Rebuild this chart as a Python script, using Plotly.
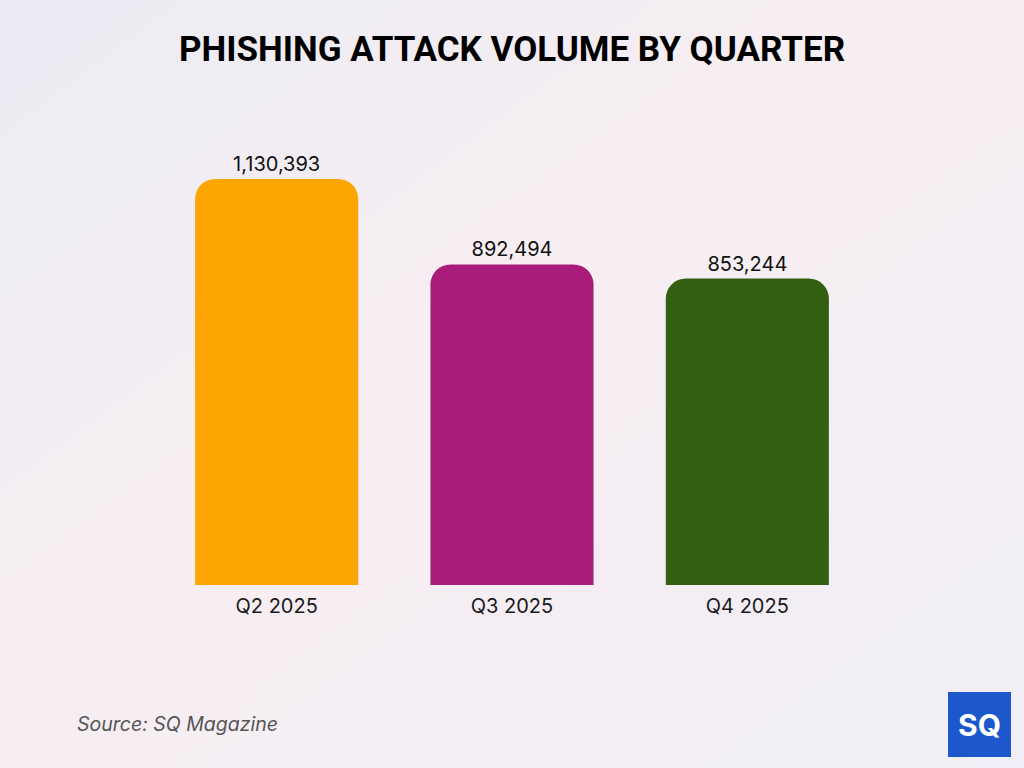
import base64
import plotly.graph_objects as go

quarters = ["Q2 2025", "Q3 2025", "Q4 2025"]
attacks = [1130393, 892494, 853244]
bar_colors = ["#FCA503", "#A91C79", "#325F10"]
title_text = "PHISHING ATTACK VOLUME BY QUARTER"
source_text = "Source: SQ Magazine"

labels = [f"{v:,}" for v in attacks]

W, H = 1024, 768
L, R, T, B = 159, 159, 120, 183
PW, PH = W - L - R, H - T - B


def px_x(x):
    return (x - L) / PW


def px_y(y):
    return (H - B - y) / PH


svg = """<svg xmlns='http://www.w3.org/2000/svg' width='1024' height='768' preserveAspectRatio='none'>
<defs><linearGradient id='g' x1='0' y1='0' x2='1' y2='1'>
<stop offset='0' stop-color='#EBECF4'/>
<stop offset='0.45' stop-color='#F7EEF2'/>
<stop offset='1' stop-color='#F0EEF6'/>
</linearGradient></defs>
<rect width='1024' height='768' fill='url(#g)'/>
</svg>"""
bg_uri = "data:image/svg+xml;base64," + base64.b64encode(svg.encode()).decode()

fig = go.Figure()
fig.add_trace(go.Bar(
    x=quarters, y=attacks,
    marker=dict(color=bar_colors, line=dict(width=0)),
    text=labels, textposition="outside", cliponaxis=False,
    textfont=dict(family="Inter, Lato, sans-serif", size=20, color="#111111"),
    hoverinfo="skip",
))

fig.update_layout(
    width=W, height=H,
    margin=dict(l=L, r=R, t=T, b=B),
    paper_bgcolor="#F4EEF2", plot_bgcolor="rgba(0,0,0,0)",
    bargap=0.307, barcornerradius=20,
    showlegend=False,
    images=[dict(source=bg_uri, xref="paper", yref="paper",
                 x=px_x(0), y=px_y(0), sizex=W / PW, sizey=H / PH,
                 xanchor="left", yanchor="top",
                 sizing="stretch", layer="below")],
    xaxis=dict(showgrid=False, showline=False, zeroline=False, ticks="",
               ticklabelstandoff=7,
               tickfont=dict(family="Inter, Lato, sans-serif", size=20, color="#1a1a1a"),
               range=[-0.5, 2.5], fixedrange=True),
    yaxis=dict(visible=False, range=[0, 1294650], fixedrange=True),
    annotations=[
        dict(text=f"<b>{title_text}</b>", xref="paper", yref="paper",
             x=0.5, y=px_y(50), xanchor="center", yanchor="middle",
             showarrow=False,
             font=dict(family="Roboto, Inter, sans-serif", size=35, color="#000000", weight=900)),
        dict(text=f"<i>{source_text}</i>", xref="paper", yref="paper",
             x=px_x(75), y=px_y(724), xanchor="left", yanchor="middle",
             showarrow=False,
             font=dict(family="Inter, Lato, sans-serif", size=19.5, color="#555555")),
        dict(text="SQ", xref="paper", yref="paper",
             x=px_x(979.5), y=px_y(725), xanchor="center", yanchor="middle",
             showarrow=False,
             font=dict(family="Inter, Roboto, sans-serif", size=30, color="#FFFFFF", weight=700)),
    ],
    shapes=[
        dict(type="rect", xref="paper", yref="paper",
             x0=px_x(948), x1=px_x(1011),
             y0=px_y(757), y1=px_y(692),
             fillcolor="#1C58CC", line=dict(width=0), layer="below"),
    ],
)
fig.write_html("out.html", config={"displayModeBar": False},
               post_script="document.body.style.margin='0';document.body.style.padding='0';")
